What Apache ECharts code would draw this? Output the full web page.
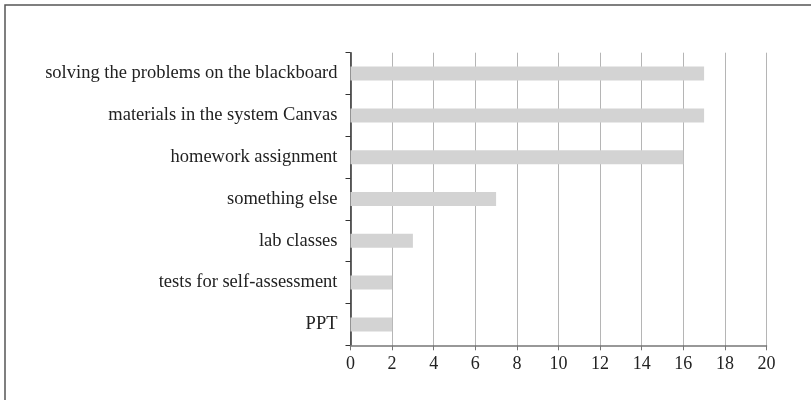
<!DOCTYPE html>
<html><head><meta charset="utf-8">
<script src="https://cdn.jsdelivr.net/npm/echarts@6/dist/echarts.min.js"></script>
<style>html,body{margin:0;padding:0;background:#fff;}#c{width:811px;height:400px;}</style>
</head><body><div id="c"></div>
<script>
const categories = ["PPT","tests for self-assessment","lab classes","something else","homework assignment","materials in the system Canvas","solving the problems on the blackboard"];
const values = [2,2,3,7,16,17,17];
const xTicks = [0,2,4,6,8,10,12,14,16,18,20];

const chart = echarts.init(document.getElementById('c'), null, {renderer:'canvas'});
chart.setOption({
  animation:false,
  backgroundColor:'#fff',
  graphic:[{type:'rect',shape:{x:5,y:5,width:900,height:500},style:{fill:'none',stroke:'#555',lineWidth:1.5},silent:true}],
  grid:{left:350.5,right:44.5,top:52.7,bottom:54.7,containLabel:false},
  xAxis:{type:'value',min:xTicks[0],max:xTicks[xTicks.length-1],interval:2,
    axisLine:{show:true,lineStyle:{color:'#777',width:1.5}},
    axisTick:{show:true,length:5,lineStyle:{color:'#777'}},
    axisLabel:{color:'#222',fontFamily:'Liberation Serif',fontSize:18,margin:10},
    splitLine:{show:true,lineStyle:{color:'#b5b5b5',width:1}}},
  yAxis:{type:'category',data:categories,
    axisLine:{show:true,lineStyle:{color:'#333',width:1.5}},
    axisTick:{show:true,length:5,lineStyle:{color:'#333'}},
    axisLabel:{color:'#222',fontFamily:'Liberation Serif',fontSize:18.5,margin:13},
    splitLine:{show:false}},
  series:[{type:'bar',data:values,barWidth:14,itemStyle:{color:'#d3d3d3'}}]
});
</script></body></html>
